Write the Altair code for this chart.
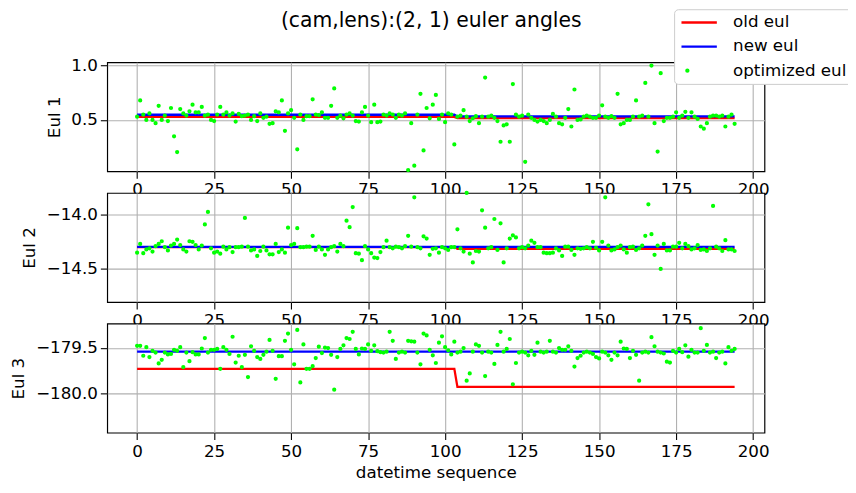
import altair as alt
import pandas as pd

seq = list(range(195))

eul1 = [0.53,0.68,0.55,0.50,0.56,0.50,0.47,0.63,0.50,0.54,
        0.49,0.61,0.35,0.205,0.60,0.56,0.54,0.58,0.64,0.57,
        0.57,0.62,0.54,0.55,0.50,0.49,0.55,0.62,0.55,0.57,
        0.54,0.56,0.485,0.555,0.535,0.54,0.55,0.50,0.535,0.49,
        0.56,0.52,0.53,0.465,0.47,0.58,0.57,0.68,0.40,0.56,
        0.59,0.52,0.23,0.55,0.50,0.535,0.535,0.69,0.55,0.545,
        0.57,0.52,0.52,0.63,0.79,0.52,0.54,0.515,0.55,0.56,
        0.54,0.49,0.485,0.57,0.62,0.54,0.48,0.64,0.48,0.485,
        0.55,0.54,0.56,0.55,0.52,0.55,0.54,0.56,0.04,0.47,
        0.08,0.55,0.74,0.22,0.61,0.515,0.64,0.73,0.51,0.55,
        0.48,0.56,0.55,0.275,0.53,0.54,0.59,0.53,0.49,0.515,
        0.535,0.47,0.53,0.89,0.53,0.54,0.52,0.49,0.30,0.45,
        0.46,0.30,0.83,0.55,0.53,0.54,0.115,0.55,0.52,0.50,
        0.485,0.50,0.49,0.47,0.50,0.555,0.53,0.47,0.46,0.52,
        0.60,0.44,0.78,0.50,0.505,0.53,0.54,0.53,0.52,0.52,
        0.54,0.635,0.53,0.52,0.535,0.52,0.74,0.46,0.47,0.50,
        0.50,0.53,0.68,0.53,0.54,0.84,0.53,1.0,0.47,0.21,
        0.93,0.49,0.52,0.52,0.53,0.57,0.52,0.54,0.575,0.52,
        0.57,0.53,0.51,0.44,0.42,0.47,0.53,0.54,0.54,0.53,
        0.54,0.44,0.53,0.55,0.465]

eul2 = [-14.35,-14.27,-14.355,-14.32,-14.31,-14.34,-14.29,-14.27,-14.245,-14.30,
        -14.33,-14.285,-14.27,-14.23,-14.28,-14.32,-14.34,-14.245,-14.25,-14.28,
        -14.32,-14.285,-14.09,-13.975,-14.31,-14.35,-14.34,-14.36,-14.295,-14.32,
        -14.30,-14.345,-14.30,-14.30,-14.295,-14.03,-14.295,-14.33,-14.32,-14.38,
        -14.335,-14.295,-14.33,-14.365,-14.365,-14.27,-14.345,-14.32,-14.35,-14.12,
        -14.28,-14.27,-14.125,-14.30,-14.30,-14.295,-14.295,-14.195,-14.325,-14.295,
        -14.32,-14.37,-14.32,-14.30,-14.29,-14.34,-14.27,-14.29,-14.055,-14.115,
        -13.93,-14.355,-14.36,-14.42,-14.29,-14.32,-14.355,-14.395,-14.40,-14.345,
        -14.30,-14.24,-14.30,-14.31,-14.295,-14.30,-14.31,-14.29,-14.195,-14.295,
        -13.84,-14.30,-14.31,-14.20,-14.22,-14.37,-14.315,-14.31,-14.35,-14.30,
        -14.31,-14.325,-14.30,-14.30,-14.135,-14.31,-14.34,-13.80,-14.36,-14.44,
        -14.335,-14.34,-13.96,-14.12,-14.31,-14.30,-14.04,-14.325,-14.08,-14.44,
        -14.31,-14.22,-14.19,-14.21,-14.31,-14.30,-14.31,-14.285,-14.24,-14.26,
        -14.30,-14.30,-14.35,-14.355,-14.355,-14.35,-14.31,-14.33,-14.38,-14.295,
        -14.295,-14.325,-14.37,-14.31,-14.315,-14.31,-14.30,-14.31,-14.25,-14.305,
        -14.33,-14.25,-13.84,-14.285,-14.33,-14.32,-14.30,-14.285,-14.32,-14.35,
        -14.30,-14.295,-14.325,-14.31,-14.285,-14.195,-13.905,-14.18,-14.37,-14.285,
        -14.50,-14.27,-14.33,-14.33,-14.295,-14.295,-14.26,-14.31,-14.27,-14.29,
        -14.32,-14.31,-14.28,-14.325,-14.32,-14.335,-14.31,-13.92,-14.295,-14.31,
        -14.335,-14.235,-14.32,-14.32,-14.335]

eul3 = [-179.475,-179.475,-179.585,-179.49,-179.60,-179.53,-179.55,-179.67,-179.63,-179.55,
        -179.57,-179.565,-179.52,-179.53,-179.49,-179.71,-179.55,-179.645,-179.545,-179.57,
        -179.57,-179.505,-179.39,-179.55,-179.52,-179.52,-179.51,-179.73,-179.49,-179.52,
        -179.565,-179.375,-179.66,-179.585,-179.71,-179.575,-179.82,-179.48,-179.53,-179.60,
        -179.62,-179.575,-179.54,-179.41,-179.53,-179.84,-179.59,-179.59,-179.42,-179.34,
        -179.52,-179.68,-179.30,-179.88,-179.46,-179.73,-179.73,-179.70,-179.61,-179.485,
        -179.555,-179.495,-179.50,-179.575,-179.96,-179.60,-179.51,-179.47,-179.39,-179.40,
        -179.32,-179.51,-179.57,-179.505,-179.51,-179.46,-179.53,-179.47,-179.535,-179.545,
        -179.55,-179.54,-179.32,-179.42,-179.62,-179.55,-179.54,-179.55,-179.42,-179.425,
        -179.43,-179.55,-179.68,-179.34,-179.36,-179.52,-179.58,-179.665,-179.44,-179.37,
        -179.49,-179.525,-179.57,-179.43,-179.55,-179.54,-179.50,-179.86,-179.78,-179.54,
        -179.46,-179.475,-179.55,-179.81,-179.54,-179.55,-179.675,-179.465,-179.32,-179.54,
        -179.51,-179.40,-179.90,-179.665,-179.55,-179.54,-179.55,-179.58,-179.53,-179.575,
        -179.44,-179.54,-179.55,-179.54,-179.42,-179.54,-179.55,-179.50,-179.52,-179.52,
        -179.48,-179.53,-179.705,-179.61,-179.585,-179.55,-179.54,-179.55,-179.565,-179.60,
        -179.615,-179.54,-179.55,-179.58,-179.63,-179.55,-179.58,-179.43,-179.505,-179.51,
        -179.61,-179.53,-179.575,-179.86,-179.55,-179.54,-179.55,-179.38,-179.48,-179.54,
        -179.55,-179.56,-179.65,-179.66,-179.53,-179.55,-179.51,-179.545,-179.47,-179.595,
        -179.52,-179.55,-179.55,-179.28,-179.53,-179.465,-179.55,-179.54,-179.61,-179.55,
        -179.54,-179.67,-179.49,-179.53,-179.51]

# step lines (old / new euler), breakpoints in the sequence
step_x = [0, 103, 104, 194]
old1 = [0.528, 0.528, 0.516, 0.516]
new1 = [0.548, 0.548, 0.532, 0.532]
old2 = [-14.299, -14.299, -14.316, -14.316]
new2 = [-14.297, -14.297, -14.297, -14.297]
old3 = [-179.73, -179.73, -179.93, -179.93]
new3 = [-179.54, -179.54, -179.54, -179.54]

series_names = ["old eul", "new eul", "optimized eul"]
series_colors = ["#ff0000", "#0000ff", "#00ff00"]
LINE_GLYPH = "M-1,0H5"
series_shapes = [LINE_GLYPH, LINE_GLYPH, "circle"]
series_sizes = [144, 144, 4]
x_ticks = [0, 25, 50, 75, 100, 125, 150, 175, 200]

FONT = "DejaVu Sans"

legend_main = alt.Legend(
    orient="none", legendX=577, legendY=-54, title=None,
    labelFontSize=17, labelFont=FONT, labelColor="black",
    symbolStrokeWidth=2.4, symbolOpacity=1,
    strokeColor="#cccccc", fillColor="white", cornerRadius=4, padding=5,
    rowPadding=6.5, labelOffset=38,
)


def panel(vals, old, new, dom, yticks, ytitle, xtitle, legend):
    pts = pd.DataFrame({"x": seq, "y": vals, "s": "optimized eul"})
    old_df = pd.DataFrame({"x": step_x, "y": old, "s": "old eul"})
    new_df = pd.DataFrame({"x": step_x, "y": new, "s": "new eul"})
    xs = alt.Scale(domain=[-9.7, 203.7], nice=False, zero=False)
    ys = alt.Scale(domain=dom, nice=False, zero=False)
    xax = alt.Axis(values=x_ticks, format="d", title=xtitle, labelOverlap=False, labelFlush=False)
    yax = alt.Axis(values=yticks, format=".1f", title=ytitle, labelOverlap=False, labelFlush=False,
                   labelPadding=3)
    col = alt.Color("s:N", scale=alt.Scale(domain=series_names, range=series_colors), legend=legend)
    shp = alt.Shape("s:N", scale=alt.Scale(domain=series_names, range=series_shapes), legend=legend)
    siz = alt.Size("s:N", scale=alt.Scale(type="ordinal", domain=series_names, range=series_sizes), legend=legend)
    xe = alt.X("x:Q", scale=xs, axis=xax)
    ye = alt.Y("y:Q", scale=ys, axis=yax)
    l_old = alt.Chart(old_df).mark_line(strokeWidth=2.3).encode(x=xe, y=ye, color=col)
    l_new = alt.Chart(new_df).mark_line(strokeWidth=2.3).encode(x=xe, y=ye, color=col)
    p = alt.Chart(pts).mark_point(filled=False, strokeWidth=2.3, opacity=1).encode(
        x=xe, y=ye, color=col, shape=shp, size=siz)
    return alt.layer(l_old, l_new, p).properties(width=669, height=111)


p1 = panel(eul1, old1, new1, [0.028, 1.03], [0.5, 1.0], "Eul 1", None, legend_main)
p2 = panel(eul2, old2, new2, [-14.805, -13.80], [-14.5, -14.0], "Eul 2", None, None)
p3 = panel(eul3, old3, new3, [-180.435, -179.23], [-180.0, -179.5], "Eul 3", "datetime sequence", None)

chart = alt.vconcat(p1, p2, p3, spacing=22, bounds="flush").resolve_scale(
    color="independent", shape="independent", size="independent"
).resolve_legend(
    color="independent", shape="independent", size="independent"
).properties(
    title=alt.TitleParams("(cam,lens):(2, 1) euler angles", fontSize=20.7, font=FONT,
                          fontWeight="normal", anchor="middle", color="black", dy=28),
    padding={"left": 1, "top": -5, "right": -6, "bottom": -1},
).configure(font=FONT).configure_view(
    stroke="black", strokeWidth=1.2, fill="white"
).configure_axis(
    grid=True, gridColor="#b0b0b0", gridWidth=1.1, domain=False,
    tickColor="black", tickSize=7, tickWidth=1.1,
    labelFontSize=17, labelColor="black", labelFont=FONT, labelPadding=4,
    titleFontSize=17, titleFontWeight="normal", titleColor="black", titleFont=FONT,
    titlePadding=6
).configure_axisY(titlePadding=8)

chart.save("out.html", embed_options={"renderer": "svg", "actions": False})
